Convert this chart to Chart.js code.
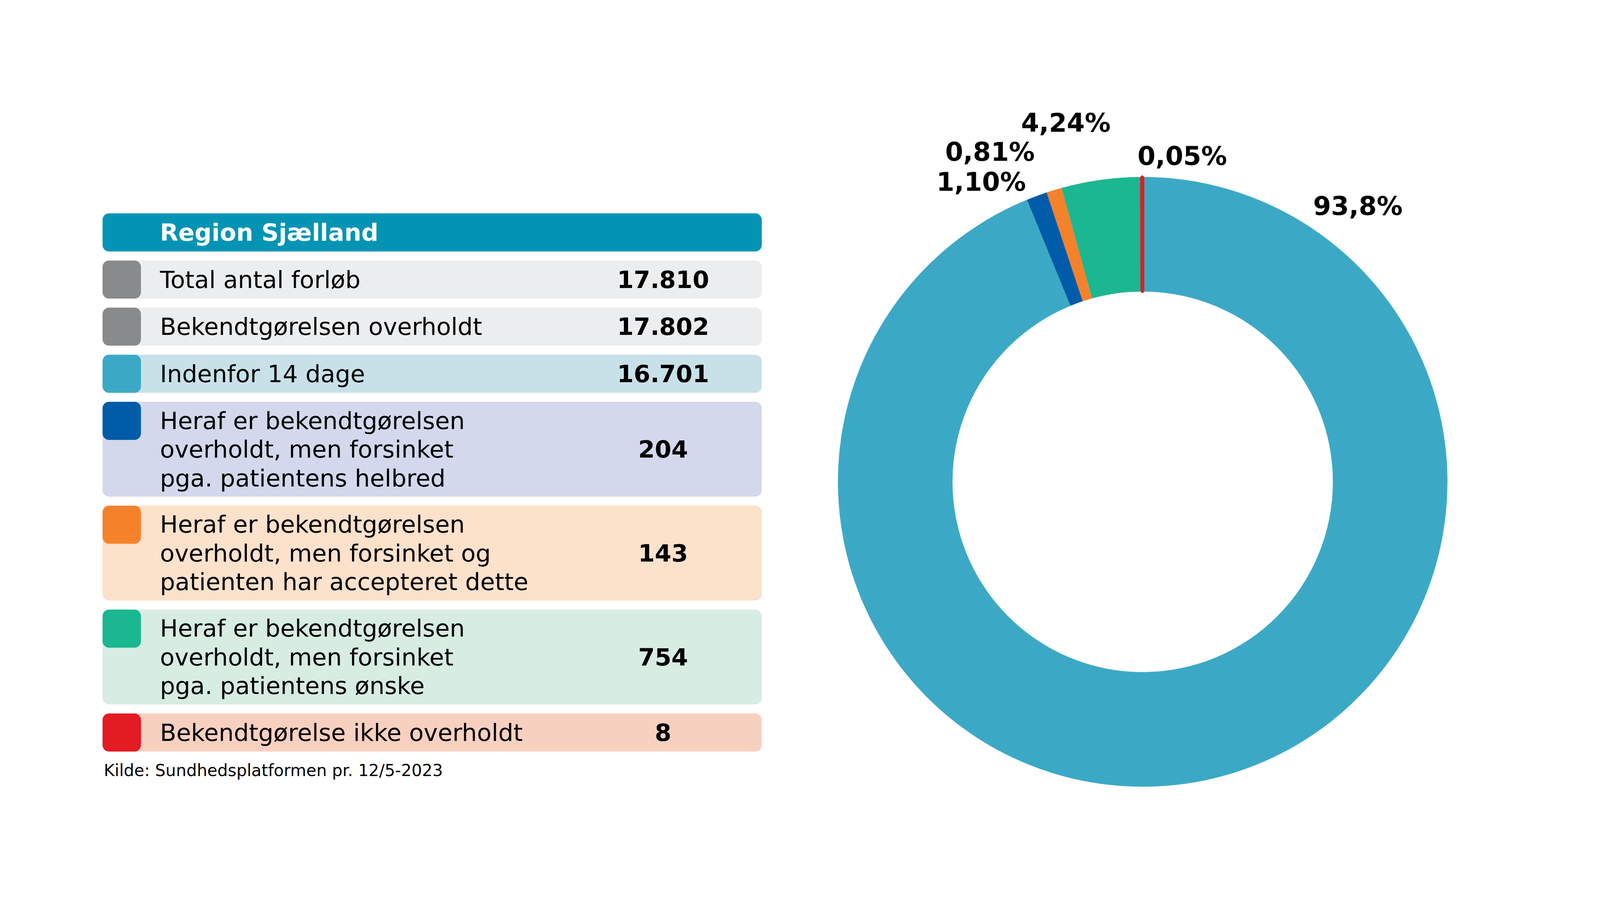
<!DOCTYPE html>
<html lang="da">
<head>
    <meta charset="UTF-8">
    <meta name="viewport" content="width=device-width, initial-scale=1.0">
    <script src="https://cdn.jsdelivr.net/npm/chart.js"></script>
    <title>Region Sjælland</title>
    <style>
        html, body {
            margin: 0;
            overflow: hidden;
            background: #ffffff;
        }

        /* the whole figure is laid out at 4961x2362 and scaled to fit the window */
        #page {
            position: absolute;
            left: 0;
            top: 0;
            width: 4961px;
            height: 2362px;
            transform-origin: 0 0;
            font-family: "DejaVu Sans", Verdana, sans-serif;
            background: #ffffff;
        }

        #table {
            position: absolute;
            left: 318px;
            top: 412px;
            width: 2044px;
        }

        .head {
            height: 118px;
            line-height: 118px;
            border-radius: 20px;
            background: #0394b4;
            color: #ffffff;
            font-weight: bold;
            font-size: 74px;
            padding-left: 178px;
            box-sizing: border-box;
            margin-bottom: 28px;
        }

        .row {
            position: relative;
            border-radius: 20px;
            margin-bottom: 28px;
            display: flex;
            align-items: center;
        }

        .swatch {
            position: absolute;
            left: 0;
            top: 0;
            width: 119px;
            height: 118px;
            border-radius: 20px;
        }

        .label {
            padding-left: 178px;
            font-size: 74px;
            line-height: 89px;
            white-space: pre-line;
            color: #000000;
        }

        .num {
            position: absolute;
            left: 1538px;
            width: 400px;
            text-align: center;
            font-size: 74px;
            font-weight: bold;
            color: #000000;
        }

        #source {
            position: absolute;
            left: 322px;
            top: 2110px;
            font-size: 51px;
            line-height: 58px;
            color: #000000;
        }

        #chartBox {
            position: absolute;
            left: 2500px;
            top: 0;
        }
    </style>
</head>
<body>
<div id="page">
    <div id="table"></div>
    <div id="source">Kilde: Sundhedsplatformen pr. 12/5-2023</div>
    <div id="chartBox"><canvas id="myChart" width="2461" height="2362"></canvas></div>
</div>
<script>
    // table (legend) rows
    const tableTitle = 'Region Sjælland';
    const categories = [
        'Total antal forløb',
        'Bekendtgørelsen overholdt',
        'Indenfor 14 dage',
        'Heraf er bekendtgørelsen\noverholdt, men forsinket\npga. patientens helbred',
        'Heraf er bekendtgørelsen\noverholdt, men forsinket og\npatienten har accepteret dette',
        'Heraf er bekendtgørelsen\noverholdt, men forsinket\npga. patientens ønske',
        'Bekendtgørelse ikke overholdt'
    ];
    const counts = [17810, 17802, 16701, 204, 143, 754, 8];

    // donut slices (percent), clockwise from the top
    const sliceNames = ['Indenfor 14 dage', 'Forsinket pga. helbred', 'Forsinket, accepteret', 'Forsinket pga. ønske', 'Ikke overholdt'];
    const slicePct = [93.8, 1.10, 0.81, 4.24, 0.05];
    const sliceText = ['93,8%', '1,10%', '0,81%', '4,24%', '0,05%'];

    // styles
    const swatchColors = ['#898a8c', '#898a8c', '#3ba9c5', '#005ba8', '#f5822b', '#1ab790', '#e31b23'];
    const rowColors = ['#ecedef', '#ecedef', '#c8e1e8', '#d4d8ec', '#fce1cb', '#d7ece3', '#f8d0c0'];
    const rowHeights = [118, 118, 118, 294, 294, 294, 118];
    const sliceColors = ['#3ba9c5', '#005ba8', '#f5822b', '#1ab790', '#e31b23'];
    // label centre, as a fraction of the outer radius, from the donut centre
    const labelDx = [0.706, -0.530, -0.501, -0.252, 0.130];
    const labelDy = [-0.897, -0.976, -1.075, -1.170, -1.061];

    // fit the 4961x2362 figure into whatever window we get
    const page = document.getElementById('page');
    const s = Math.min(window.innerWidth / 4961, window.innerHeight / 2362);
    const ox = (window.innerWidth - 4961 * s) / 2;
    const oy = (window.innerHeight - 2362 * s) / 2;
    page.style.transform = 'translate(' + ox + 'px,' + oy + 'px) scale(' + s + ')';

    function fmt(n) {
        return String(n).replace(/\B(?=(\d{3})+(?!\d))/g, '.');
    }

    const table = document.getElementById('table');
    const head = document.createElement('div');
    head.className = 'head';
    head.textContent = tableTitle;
    table.appendChild(head);
    categories.forEach((cat, i) => {
        const row = document.createElement('div');
        row.className = 'row';
        row.style.height = rowHeights[i] + 'px';
        row.style.background = rowColors[i];
        const sw = document.createElement('div');
        sw.className = 'swatch';
        sw.style.background = swatchColors[i];
        const lab = document.createElement('div');
        lab.className = 'label';
        lab.textContent = cat;
        const num = document.createElement('div');
        num.className = 'num';
        num.textContent = fmt(counts[i]);
        row.appendChild(sw);
        row.appendChild(lab);
        row.appendChild(num);
        table.appendChild(row);
    });

    const sliceLabels = {
        id: 'sliceLabels',
        afterDatasetsDraw(chart) {
            const ctx = chart.ctx;
            const arcs = chart.getDatasetMeta(0).data;
            ctx.save();
            ctx.font = 'bold 80px "DejaVu Sans", Verdana, sans-serif';
            ctx.fillStyle = '#000000';
            ctx.textAlign = 'center';
            ctx.textBaseline = 'middle';
            arcs.forEach((arc, i) => {
                const r = arc.outerRadius;
                ctx.fillText(sliceText[i], arc.x + labelDx[i] * r, arc.y + labelDy[i] * r);
            });
            ctx.restore();
        }
    };

    const ctx = document.getElementById('myChart');
    new Chart(ctx, {
        type: 'doughnut',
        data: {
            labels: sliceNames,
            datasets: [{
                data: slicePct,
                backgroundColor: sliceColors,
                borderColor: sliceColors,
                borderWidth: [0, 0, 0, 0, 10],
                borderAlign: 'center',
                borderJoinStyle: 'bevel'
            }]
        },
        options: {
            responsive: false,
            devicePixelRatio: 1,
            animation: false,
            cutout: '62.4%',
            rotation: 0,
            layout: {
                padding: {left: 93, right: 468, top: 294, bottom: 168}
            },
            plugins: {
                legend: {display: false},
                tooltip: {enabled: false},
                title: {display: false}
            }
        },
        plugins: [sliceLabels]
    });
</script>
</body>
</html>
